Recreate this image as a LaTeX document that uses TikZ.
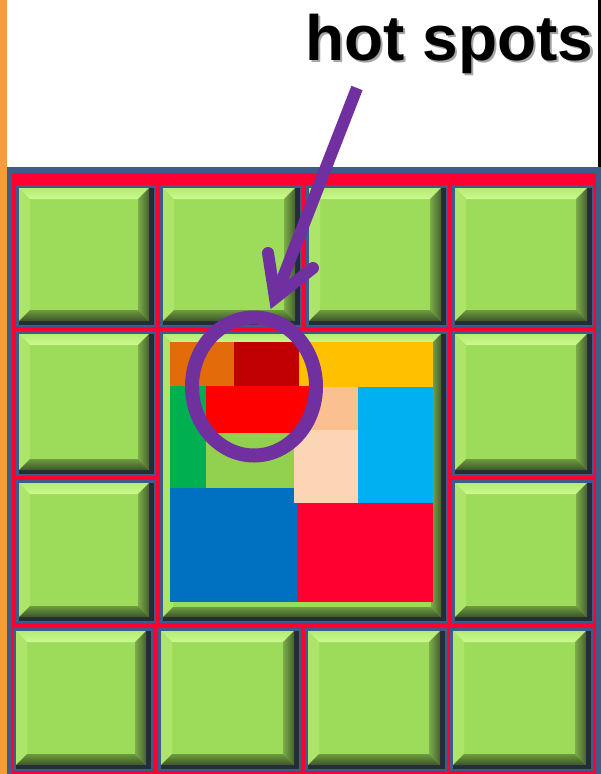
\documentclass[tikz,border=0pt]{standalone}
\usepackage{fontspec}
\setmainfont{Liberation Sans}
\usetikzlibrary{shapes.geometric}
\definecolor{tileblue}{HTML}{3D5C8A}
\definecolor{tileshadow}{HTML}{242C3A}
\definecolor{boardred}{HTML}{FF0030}
\definecolor{facegreen}{HTML}{9DDC5B}
\definecolor{bevtopA}{HTML}{B4EC74}
\definecolor{bevtopB}{HTML}{CBF98F}
\definecolor{bevleft}{HTML}{ADE56B}
\definecolor{bevrightA}{HTML}{7CAC4A}
\definecolor{bevrightB}{HTML}{46622E}
\definecolor{bevbotA}{HTML}{6E9A40}
\definecolor{bevbotB}{HTML}{3C5629}
\definecolor{stripe}{HTML}{F99B3A}
\definecolor{hotpurple}{HTML}{7030A0}
\definecolor{cOrange}{HTML}{E36C0A}
\definecolor{cDarkRed}{HTML}{C00000}
\definecolor{cGold}{HTML}{FFC000}
\definecolor{cGreen}{HTML}{00B050}
\definecolor{cRed}{HTML}{FF0000}
\definecolor{cLime}{HTML}{92D050}
\definecolor{cPeach}{HTML}{FAC090}
\definecolor{cLightPeach}{HTML}{FCD5B5}
\definecolor{cCyan}{HTML}{00B0F0}
\definecolor{cBlue}{HTML}{0070C0}
\definecolor{cCrimson}{HTML}{FF0030}
% bevelled tile: x1 y1 x2 y2 bevel
\newcommand\bevtile[5]{%
  \fill[tileblue] (#1,#2) rectangle (#3,#4);
  \pgfmathsetmacro\tAx{#1+3}\pgfmathsetmacro\tAy{#2+3}%
  \pgfmathsetmacro\tBx{#3-7}\pgfmathsetmacro\tBy{#4-6}%
  \pgfmathsetmacro\tSx{#3-2}\pgfmathsetmacro\tSy{#4-2}%
  \pgfmathsetmacro\tCx{\tAx+#5}\pgfmathsetmacro\tCy{\tAy+#5}%
  \pgfmathsetmacro\tDx{\tBx-#5}\pgfmathsetmacro\tDy{\tBy-#5}%
  \fill[tileshadow] (\tAx,\tAy) rectangle (\tSx,\tSy);
  \fill[facegreen] (\tAx,\tAy) rectangle (\tBx,\tBy);
  \shade[top color=bevtopA, bottom color=bevtopB] (\tAx,\tAy) -- (\tBx,\tAy) -- (\tDx,\tCy) -- (\tCx,\tCy) -- cycle;
  \fill[bevleft] (\tAx,\tAy) -- (\tCx,\tCy) -- (\tCx,\tDy) -- (\tAx,\tBy) -- cycle;
  \shade[left color=bevrightA, right color=bevrightB] (\tBx,\tAy) -- (\tBx,\tBy) -- (\tDx,\tDy) -- (\tDx,\tCy) -- cycle;
  \shade[top color=bevbotA, bottom color=bevbotB] (\tAx,\tBy) -- (\tBx,\tBy) -- (\tDx,\tDy) -- (\tCx,\tDy) -- cycle;
}
\newcommand\shadowed[1]{\rlap{\hspace{2.5pt}\raisebox{-2.5pt}{\color{black!35}#1}}#1}
\tikzset{
  cell/.style={fill=#1},
  hotline/.style={draw=hotpurple, line width=12pt},
  titletext/.style={font=\fontsize{64}{70}\selectfont\bfseries, inner sep=0pt, anchor=base west}
}
\begin{document}
\begin{tikzpicture}[x=1pt,y=-1pt]
\useasboundingbox (0,0) rectangle (601,774);
\fill[white] (0,0) rectangle (601,774);
% side strips
\fill[stripe] (0,0) rectangle (7,774);
\fill[black] (598,0) rectangle (601,167);
% board
\fill[tileblue] (7,167) rectangle (601,774);
\fill[boardred] (12,173) rectangle (596,774);
% row 1
\bevtile{16}{185}{156}{327}{11}
\bevtile{160}{185}{302}{327}{11}
\bevtile{306}{185}{448}{327}{11}
\bevtile{452}{185}{594}{327}{11}
% rows 2-3 sides
\bevtile{16}{331}{156}{476}{11}
\bevtile{452}{331}{594}{476}{11}
\bevtile{16}{480}{156}{623}{11}
\bevtile{452}{480}{594}{623}{11}
% middle tile
\bevtile{160}{331}{448}{623}{10}
% row 4
\bevtile{13}{628}{153}{771}{11}
\bevtile{158}{628}{301}{771}{11}
\bevtile{305}{628}{447}{771}{11}
\bevtile{450}{628}{593}{771}{11}
% coloured blocks in the middle tile
\fill[cell=cOrange] (170,342) rectangle (234,386);
\fill[cell=cDarkRed] (234,342) rectangle (299,387);
\fill[cell=cGold] (299,342) rectangle (433,387);
\fill[cell=cGreen] (170,386) rectangle (206,488);
\fill[cell=cRed] (206,386) rectangle (309,433);
\fill[cell=cLime] (206,433) rectangle (294,488);
\fill[cell=cPeach] (309,387) rectangle (359,430);
\fill[cell=cCyan] (358,387) rectangle (433,503);
\fill[cell=cBlue] (170,488) rectangle (297,602);
\fill[cell=cLightPeach] (294,430) rectangle (358,503);
\fill[cell=cCrimson] (297,503) rectangle (433,602);
% hot spot ring
\node[draw=hotpurple, line width=14pt, ellipse, minimum width=124pt, minimum height=138pt, inner sep=0pt] (hot) at (254,386.5) {};
% label
\node[titletext, text=black] (label) at (305,60) {\shadowed{hot spots}};
% arrow
\coordinate (tail) at (357,88);
\coordinate (tip) at (275,298);
\coordinate (barbL) at (268,253);
\coordinate (barbR) at (313,268);
\draw[hotline] (tail) -- (tip);
\draw[hotline, line cap=round, miter limit=10] (barbL) -- (tip) -- (barbR);
\end{tikzpicture}
\end{document}
